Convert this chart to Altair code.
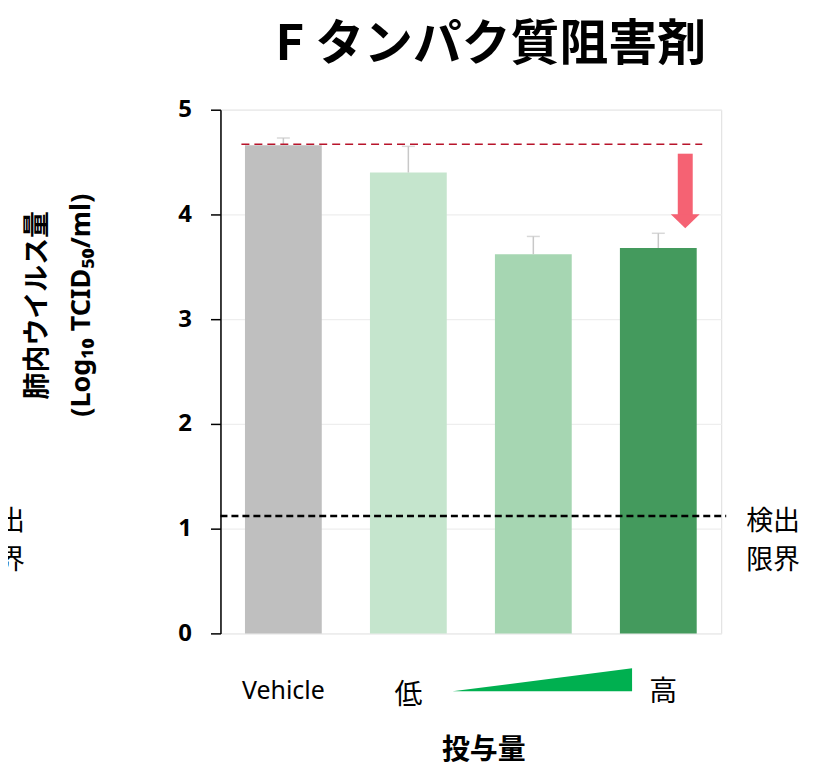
import altair as alt
import pandas as pd

# ---- data ----
categories = ["Vehicle", "低", "中", "高"]
tick_labels = ["Vehicle", "低", "", "高"]
means = [4.66, 4.40, 3.62, 3.68]
err_upper = [4.73, 4.65, 3.79, 3.82]
bar_colors = ["#BFBFBF", "#C5E5CD", "#A6D6B2", "#449A5D"]
y_ticks = [0, 1, 2, 3, 4, 5]
detection_limit = 1.12
vehicle_ref = 4.67
arrow_top = 4.58
arrow_shaft_end = 3.99
arrow_head_center = 3.935

FONT = "Noto Sans CJK JP"

bars_df = pd.DataFrame({"cat": categories, "mean": means, "upper": err_upper, "label": tick_labels})

x_enc = alt.X("cat:N", sort=categories, axis=None,
              scale=alt.Scale(paddingInner=0.3855, paddingOuter=0.196))
y_scale = alt.Scale(domain=[0, 5], nice=False, zero=True)

base = alt.Chart(bars_df)

bars = base.mark_bar().encode(
    x=x_enc,
    y=alt.Y("mean:Q", scale=y_scale,
            axis=alt.Axis(values=y_ticks, format="d", title=None, grid=True,
                          gridColor="#EEEEEE", gridWidth=1.2, domainColor="black",
                          domainWidth=1.5, tickColor="black", tickWidth=1.5, tickSize=10,
                          labelPadding=19, labelFont="Noto Sans", labelFontSize=24,
                          labelFontWeight="bold", labelColor="black")),
    color=alt.Color("cat:N", scale=alt.Scale(domain=categories, range=bar_colors), legend=None),
)

err_line = base.mark_rule(color="#C8C8C8", strokeWidth=1.5).encode(
    x=x_enc, y=alt.Y("mean:Q", scale=y_scale), y2="upper:Q")
err_cap = base.mark_tick(color="#C8C8C8", thickness=1.5, size=13).encode(
    x=x_enc, y=alt.Y("upper:Q", scale=y_scale))

ref_df = pd.DataFrame({"v": [vehicle_ref]})
red_line = alt.Chart(ref_df).mark_rule(color="#B8142B", strokeWidth=1.5, strokeDash=[8, 5]).encode(
    y=alt.Y("v:Q", scale=y_scale), x=alt.value(21), x2=alt.value(483))

lod_df = pd.DataFrame({"v": [detection_limit]})
black_line = alt.Chart(lod_df).mark_rule(color="black", strokeWidth=2.5, strokeDash=[7, 4]).encode(
    y=alt.Y("v:Q", scale=y_scale), x=alt.value(0), x2=alt.value(507))

arrow_df = pd.DataFrame({"cat": ["高"], "top": [arrow_top], "end": [arrow_shaft_end], "head": [arrow_head_center]})
arrow_shaft = alt.Chart(arrow_df).mark_rule(color="#F56273", strokeWidth=15, xOffset=27).encode(
    x=x_enc, y=alt.Y("top:Q", scale=y_scale), y2="end:Q")
arrow_head = alt.Chart(arrow_df).mark_point(
    shape="M-1,-0.48 L1,-0.48 L0,0.48 Z", filled=True, opacity=1, color="#F56273",
    size=841, xOffset=27, strokeWidth=0).encode(
    x=x_enc, y=alt.Y("head:Q", scale=y_scale))

# category labels under the bars
lab_vehicle = alt.Chart(pd.DataFrame({"cat": ["Vehicle"], "label": ["Vehicle"]})).mark_text(
    font="Noto Sans", fontSize=25, color="black", baseline="middle").encode(
    x=x_enc, y=alt.value(583), text="label:N")
lab_lo = alt.Chart(pd.DataFrame({"cat": ["低"], "label": ["低"]})).mark_text(
    font=FONT, fontSize=28, color="black", baseline="middle").encode(
    x=x_enc, y=alt.value(588), text="label:N")
lab_hi = alt.Chart(pd.DataFrame({"cat": ["高"], "label": ["高"]})).mark_text(
    font=FONT, fontSize=28, color="black", baseline="middle", dx=5).encode(
    x=x_enc, y=alt.value(585), text="label:N")

tri = alt.Chart(pd.DataFrame({"cat": ["中"]})).mark_point(
    shape="M-1,0.128 L1,-0.128 L1,0.128 Z", filled=True, opacity=1, color="#00B050",
    size=32400, xOffset=9, strokeWidth=0).encode(x=x_enc, y=alt.value(571.5))

def txt(s, x, y, size, weight="normal", align="center", angle=0, font=FONT):
    return alt.Chart(pd.DataFrame({"t": [s]})).mark_text(
        font=font, fontSize=size, fontWeight=weight, align=align, baseline="middle",
        angle=angle, color="black").encode(text="t:N", x=alt.value(x), y=alt.value(y))

title = txt("F タンパク質阻害剤", 271, -65, 49, weight="bold")
ytitle1 = txt("肺内ウイルス量", -183, 196, 27, weight="bold", angle=270)
ytitle2 = txt("(Log₁₀ TCID₅₀/ml)", -139, 196, 27, weight="bold", angle=270, font="Noto Sans")
xtitle = txt("投与量", 264, 643, 28, weight="bold")
lod1 = txt("検出", 527, 413, 27, align="left")
lod2 = txt("限界", 527, 452, 27, align="left")
lodL1 = txt("検出", -196, 413, 27, align="right")
lodL2 = txt("限界", -196, 452, 27, align="right")

chart = alt.layer(
    bars, err_line, err_cap, red_line, black_line, arrow_shaft, arrow_head,
    lab_vehicle, lab_lo, lab_hi, tri,
    title, ytitle1, ytitle2, xtitle, lod1, lod2, lodL1, lodL2,
).properties(
    width=502, height=525,
    autosize=alt.AutoSizeParams(type="none"),
    padding={"left": 213, "top": 101, "right": 84, "bottom": 136},
).configure_view(stroke=None).configure(background="white")

chart.save("out.html", embed_options={"renderer": "svg", "actions": False})
